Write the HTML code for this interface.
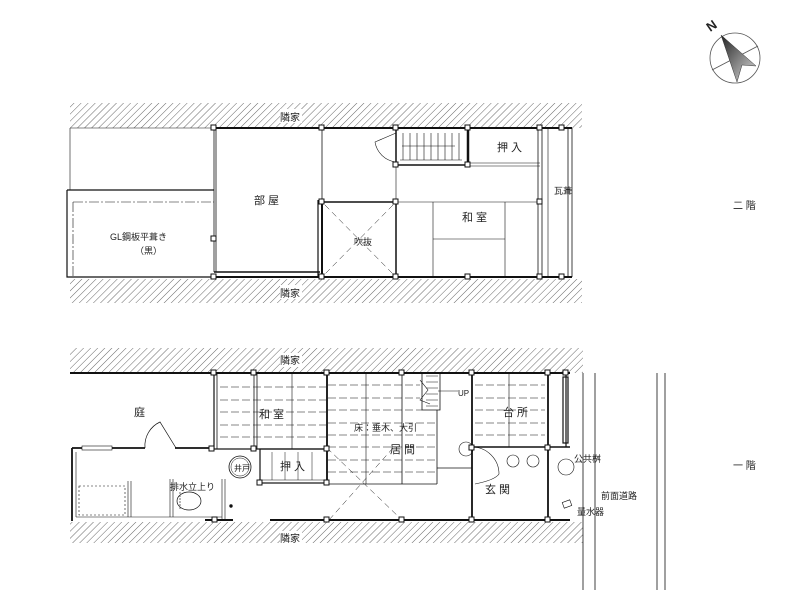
<!DOCTYPE html>
<html><head><meta charset="utf-8"><style>
html,body{margin:0;padding:0;background:#fff;}
svg{display:block;}
text{font-family:"Liberation Sans","Noto Sans CJK JP",sans-serif;fill:#222;}
</style></head><body>
<svg width="800" height="616" viewBox="0 0 800 616" xmlns="http://www.w3.org/2000/svg">
<defs>
<pattern id="h" width="5" height="5" patternUnits="userSpaceOnUse" patternTransform="rotate(45)">
<line x1="0" y1="0" x2="0" y2="5" stroke="#555" stroke-width="0.9"/>
</pattern>
<linearGradient id="g" x1="0" y1="0" x2="1" y2="1"><stop offset="0" stop-color="#222"/><stop offset="1" stop-color="#ddd"/></linearGradient>
</defs>

<!-- compass -->
<circle cx="735" cy="58" r="25" fill="none" stroke="#555" stroke-width="0.8"/>
<line x1="712" y1="70" x2="758" y2="46" stroke="#555" stroke-width="0.8"/>
<polygon points="721,35 756,66 742,65 737,82" fill="url(#g)" stroke="#333" stroke-width="0.5"/>
<text x="707" y="30" font-size="13" transform="rotate(-35 712 26)" font-weight="bold">N</text>

<g fill="none" stroke="#111">
<!-- ========== UPPER PLAN ========== -->
<rect x="70" y="103" width="512" height="25" fill="url(#h)" stroke="none"/>
<rect x="70" y="279" width="512" height="24" fill="url(#h)" stroke="none"/>
<rect x="280" y="109" width="22" height="14" fill="#fff" stroke="none"/>
<rect x="280" y="285" width="22" height="14" fill="#fff" stroke="none"/>
<line x1="70" y1="128" x2="214" y2="128" stroke-width="0.6"/>
<line x1="70" y1="128" x2="70" y2="190" stroke-width="0.6"/>
<path d="M67 190 H214 M67 190 V277 H214" stroke-width="1.2"/>
<path d="M73 202 H214 M73 202 V277" stroke-width="0.6" stroke-dasharray="10 2 2 2"/>
<line x1="214" y1="128" x2="572" y2="128" stroke-width="2"/>
<line x1="214" y1="277" x2="572" y2="277" stroke-width="2"/>
<line x1="214" y1="128" x2="214" y2="272" stroke-width="0.8"/>
<line x1="216" y1="128" x2="216" y2="272" stroke-width="0.8"/>
<line x1="214" y1="272" x2="320" y2="272" stroke-width="1.5"/>
<line x1="322" y1="128" x2="322" y2="200" stroke-width="0.8"/>
<line x1="318" y1="200" x2="318" y2="277" stroke-width="1.2"/>
<line x1="322" y1="202" x2="322" y2="277" stroke-width="2"/>
<rect x="322" y="202" width="74" height="75" stroke-width="1.5"/>
<path d="M325 205 L393 274 M393 205 L325 274" stroke-width="0.5" stroke-dasharray="6 4"/>
<rect x="396" y="128" width="72" height="37" stroke-width="1.5"/>
<g stroke-width="0.6">
<line x1="403" y1="133" x2="403" y2="160"/><line x1="410" y1="133" x2="410" y2="160"/><line x1="417" y1="133" x2="417" y2="160"/><line x1="424" y1="133" x2="424" y2="160"/><line x1="431" y1="133" x2="431" y2="160"/><line x1="438" y1="133" x2="438" y2="160"/><line x1="445" y1="133" x2="445" y2="160"/><line x1="452" y1="133" x2="452" y2="160"/><line x1="459" y1="133" x2="459" y2="160"/>
<line x1="400" y1="160" x2="462" y2="160"/><line x1="402" y1="146" x2="455" y2="146"/>
</g>
<line x1="468" y1="128" x2="468" y2="165" stroke-width="2.5"/>
<path d="M396 133 L375 142 A24 24 0 0 0 396 162" stroke-width="0.6"/>
<line x1="468" y1="163" x2="540" y2="163" stroke-width="0.6"/>
<line x1="468" y1="166" x2="540" y2="166" stroke-width="0.6"/>
<line x1="396" y1="165" x2="396" y2="277" stroke-width="0.6"/>
<line x1="396" y1="202" x2="540" y2="202" stroke-width="0.6"/>
<line x1="433" y1="202" x2="433" y2="277" stroke-width="0.6"/>
<line x1="505" y1="202" x2="505" y2="277" stroke-width="0.6"/>
<line x1="433" y1="239" x2="505" y2="239" stroke-width="0.6"/>
<line x1="538" y1="128" x2="538" y2="277" stroke-width="0.8"/>
<line x1="542" y1="128" x2="542" y2="277" stroke-width="0.8"/>
<line x1="548" y1="128" x2="548" y2="277" stroke-width="0.6"/>
<line x1="568" y1="128" x2="568" y2="277" stroke-width="0.8"/>
<line x1="572" y1="128" x2="572" y2="277" stroke-width="0.8"/>
<line x1="566" y1="190" x2="572" y2="190" stroke-width="0.8"/>
<g fill="#fff" stroke-width="1">
<rect x="211" y="125" width="5" height="5"/><rect x="319" y="125" width="5" height="5"/><rect x="393" y="125" width="5" height="5"/><rect x="465" y="125" width="5" height="5"/><rect x="537" y="125" width="5" height="5"/><rect x="559" y="125" width="5" height="5"/>
<rect x="211" y="274" width="5" height="5"/><rect x="319" y="274" width="5" height="5"/><rect x="393" y="274" width="5" height="5"/><rect x="465" y="274" width="5" height="5"/><rect x="537" y="274" width="5" height="5"/><rect x="559" y="274" width="5" height="5"/>
<rect x="319" y="199" width="5" height="5"/><rect x="393" y="199" width="5" height="5"/><rect x="537" y="199" width="5" height="5"/><rect x="211" y="236" width="5" height="5"/><rect x="393" y="162" width="5" height="5"/><rect x="465" y="162" width="5" height="5"/>
</g>

<!-- ========== LOWER PLAN ========== -->
<rect x="70" y="348" width="513" height="25" fill="url(#h)" stroke="none"/>
<rect x="70" y="522" width="513" height="21" fill="url(#h)" stroke="none"/>
<rect x="280" y="353" width="22" height="14" fill="#fff" stroke="none"/>
<rect x="280" y="531" width="22" height="14" fill="#fff" stroke="none"/>
<line x1="70" y1="373" x2="570" y2="373" stroke-width="2"/>
<line x1="583" y1="373" x2="583" y2="590" stroke-width="0.8"/>
<line x1="595" y1="373" x2="595" y2="590" stroke-width="0.8"/>
<line x1="657" y1="373" x2="657" y2="590" stroke-width="0.8"/>
<line x1="665" y1="373" x2="665" y2="590" stroke-width="0.8"/>
<path d="M72 448 H145 M175 448 H214" stroke-width="1.8"/>
<rect x="82" y="446" width="30" height="4" fill="#fff" stroke-width="0.6"/>
<path d="M145 448 A26 26 0 0 1 160 422 L176 448" stroke-width="0.7"/>
<line x1="72" y1="448" x2="72" y2="521" stroke-width="1.8"/>
<line x1="76" y1="452" x2="76" y2="517" stroke-width="0.6"/>
<rect x="79" y="486" width="46" height="29" stroke-width="0.6" stroke-dasharray="2 2"/>
<path d="M76 517 H222 M128 517 V481 M131 517 V481 M170 517 V479 M173 517 V479 M222 479 V520 M225 479 V520" stroke-width="0.6"/>
<ellipse cx="189" cy="501" rx="12" ry="9" stroke-width="0.7"/>
<line x1="180" y1="492" x2="180" y2="510" stroke-width="0.6" stroke-dasharray="2 1"/>
<circle cx="231" cy="506" r="1.2" fill="#111"/>
<circle cx="240" cy="467" r="11" stroke-width="0.8"/>
<circle cx="240" cy="467" r="9" stroke-width="0.5"/>
<rect x="214" y="373" width="113" height="76" stroke-width="1.2"/>
<line x1="217" y1="373" x2="217" y2="449" stroke-width="0.8"/>
<line x1="254" y1="373" x2="254" y2="449" stroke-width="0.8"/>
<line x1="257" y1="373" x2="257" y2="449" stroke-width="0.8"/>
<line x1="292" y1="373" x2="292" y2="449" stroke-width="0.6"/>
<g stroke-width="0.6" stroke-dasharray="8 3">
<path d="M220 387 H326 M220 400 H326 M220 412 H326 M220 425 H326 M220 437 H326"/>
<path d="M328 385 H420 M328 398 H420 M328 410 H422 M328 423 H437 M328 435 H437 M328 447 H437 M328 460 H437 M328 472 H437"/>
<path d="M475 385 H545 M475 398 H545 M475 410 H545 M475 423 H545 M475 435 H545"/>
</g>
<rect x="260" y="449" width="67" height="34" stroke-width="1.2"/>
<line x1="260" y1="480" x2="327" y2="480" stroke-width="0.6"/>
<path d="M272 452 V480 M285 452 V480 M298 452 V480 M312 452 V480" stroke-width="0.5"/>
<line x1="327" y1="373" x2="327" y2="484" stroke-width="1.8"/>
<line x1="366" y1="373" x2="366" y2="484" stroke-width="0.6"/>
<line x1="402" y1="373" x2="402" y2="484" stroke-width="0.8"/>
<line x1="327" y1="484" x2="437" y2="484" stroke-width="0.8"/>
<path d="M327 448 L402 520 M393 448 L329 520" stroke-width="0.5" stroke-dasharray="6 4"/>
<path d="M422 373 V410 H440 V373" stroke-width="0.8"/>
<path d="M426 376 H438 M426 382 H438 M426 388 H438 M426 394 H438 M426 400 H438 M426 406 H438" stroke-width="0.5"/>
<path d="M420 380 L428 390 L420 400 L430 404" stroke-width="0.6"/>
<path d="M438 391 H458" stroke-width="0.6"/>
<line x1="437" y1="410" x2="437" y2="484" stroke-width="0.8"/>
<line x1="437" y1="468" x2="472" y2="468" stroke-width="0.8"/>
<line x1="472" y1="373" x2="472" y2="520" stroke-width="1.8"/>
<line x1="509" y1="373" x2="509" y2="447" stroke-width="0.6"/>
<line x1="548" y1="373" x2="548" y2="520" stroke-width="1.8"/>
<line x1="472" y1="447" x2="570" y2="447" stroke-width="1.5"/>
<line x1="566" y1="373" x2="566" y2="447" stroke-width="1.2"/>
<rect x="563" y="377" width="5" height="66" stroke-width="1.2"/>
<path d="M472 447 A27 27 0 0 1 499 474 Q495 480 475 484" stroke-width="0.6"/>
<circle cx="466" cy="449" r="7" stroke-width="0.6"/>
<circle cx="513" cy="461" r="6" stroke-width="0.6"/>
<circle cx="533" cy="461" r="6" stroke-width="0.6"/>
<circle cx="566" cy="467" r="8" stroke-width="0.6"/>
<rect x="563" y="501" width="8" height="6" transform="rotate(-20 567 504)" stroke-width="0.6"/>
<path d="M205 520 H233 M270 520 H570" stroke-width="2"/>
<g fill="#fff" stroke-width="1">
<rect x="211" y="370" width="5" height="5"/><rect x="251" y="370" width="5" height="5"/><rect x="324" y="370" width="5" height="5"/><rect x="399" y="370" width="5" height="5"/><rect x="469" y="370" width="5" height="5"/><rect x="545" y="370" width="5" height="5"/><rect x="563" y="370" width="5" height="5"/>
<rect x="209" y="446" width="5" height="5"/><rect x="251" y="446" width="5" height="5"/><rect x="324" y="446" width="5" height="5"/><rect x="469" y="445" width="5" height="5"/><rect x="545" y="445" width="5" height="5"/>
<rect x="257" y="480" width="5" height="5"/><rect x="324" y="480" width="5" height="5"/>
<rect x="212" y="517" width="5" height="5"/><rect x="324" y="517" width="5" height="5"/><rect x="399" y="517" width="5" height="5"/><rect x="469" y="517" width="5" height="5"/><rect x="545" y="517" width="5" height="5"/>
</g>
</g>

<g font-size="10">
<text x="280" y="121">隣家</text>
<text x="280" y="297">隣家</text>
<text x="254" y="204" font-size="11">部 屋</text>
<text x="110" y="240" font-size="9">GL鋼板平葺き</text>
<text x="135" y="254" font-size="9">（黒）</text>
<text x="354" y="245" font-size="9">吹抜</text>
<text x="462" y="221" font-size="11">和 室</text>
<text x="497" y="151" font-size="11">押 入</text>
<text x="554" y="194" font-size="9">瓦葺</text>
<text x="733" y="209">二 階</text>
<text x="733" y="469">一 階</text>
<text x="280" y="364">隣家</text>
<text x="280" y="542">隣家</text>
<text x="134" y="416" font-size="11">庭</text>
<text x="259" y="418" font-size="11">和 室</text>
<text x="354" y="431" font-size="9">床：垂木、大引</text>
<text x="390" y="453" font-size="11">居 間</text>
<text x="280" y="470" font-size="11">押 入</text>
<text x="234" y="471" font-size="8">井戸</text>
<text x="170" y="490" font-size="9">排水立上り</text>
<text x="458" y="396" font-size="8">UP</text>
<text x="503" y="416" font-size="11">台 所</text>
<text x="485" y="493" font-size="11">玄 関</text>
<text x="574" y="462" font-size="9">公共桝</text>
<text x="601" y="499" font-size="9">前面道路</text>
<text x="577" y="515" font-size="9">量水器</text>
</g>
</svg>
</body></html>
